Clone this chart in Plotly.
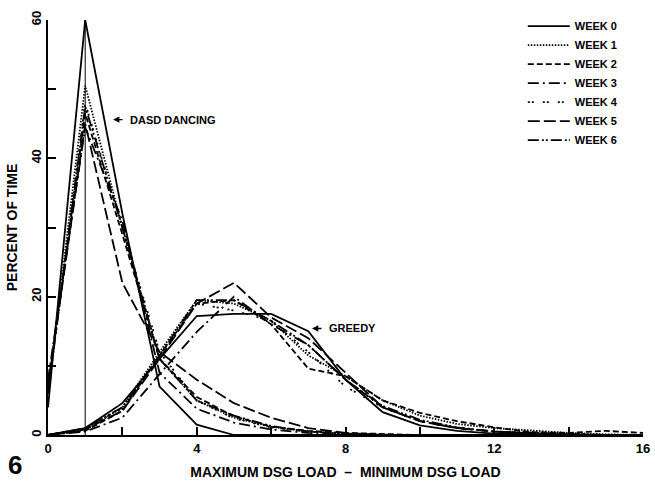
import plotly.graph_objects as go

x_vals = list(range(17))
weeks = ["WEEK 0", "WEEK 1", "WEEK 2", "WEEK 3", "WEEK 4", "WEEK 5", "WEEK 6"]

dasd_w0 = [4, 60, 32, 7, 1.5, 0, 0, 0, 0, 0, 0, 0, 0, 0, 0, 0, 0]
dasd_w1 = [6, 50.5, 30, 11, 5, 2.5, 1.2, 0.5, 0.2, 0, 0, 0, 0, 0, 0, 0, 0]
dasd_w2 = [7, 46.5, 29, 11, 5.5, 2.7, 1.2, 0.6, 0.3, 0.1, 0, 0, 0, 0, 0, 0, 0]
dasd_w3 = [8, 44.5, 31, 9, 3.8, 1.8, 0.8, 0.3, 0.1, 0, 0, 0, 0, 0, 0, 0, 0]
dasd_w4 = [6, 48, 30, 12, 5, 2.4, 1.1, 0.5, 0.2, 0, 0, 0, 0, 0, 0, 0, 0]
dasd_w5 = [7, 45, 22, 12, 8, 4.6, 2.5, 1, 0.3, 0, 0, 0, 0, 0, 0, 0, 0]
dasd_w6 = [6, 47.5, 30, 11, 5, 2.8, 1.3, 0.5, 0.2, 0, 0, 0, 0, 0, 0, 0, 0]

greedy_w0 = [0, 1, 4.6, 11, 17.2, 17.5, 17.5, 15, 8, 3.3, 1.4, 0.6, 0.2, 0.1, 0, 0, 0]
greedy_w1 = [0, 0.8, 4, 12, 19.5, 19, 16.5, 11.5, 8.5, 5, 2.8, 1.6, 1, 0.6, 0.3, 0.1, 0]
greedy_w2 = [0, 0.6, 3.5, 11.5, 19, 19.5, 16, 9.6, 8.5, 5, 3.2, 2, 1.1, 0.4, 0.3, 0.6, 0.3]
greedy_w3 = [0, 0.5, 2.5, 8.8, 14.9, 20, 16, 13, 8, 4, 2, 1, 0.5, 0.2, 0, 0, 0]
greedy_w4 = [0, 0.9, 3.8, 11.5, 19, 18, 16.5, 12, 7, 4, 2, 1, 0.5, 0.3, 0.1, 0, 0]
greedy_w5 = [0, 0.8, 3.5, 11, 19, 22, 17, 14, 9, 4, 2, 1, 0.5, 0.2, 0, 0, 0]
greedy_w6 = [0, 1, 4, 11.5, 19.5, 19.5, 16.5, 13, 8, 4.2, 2.2, 1.1, 0.5, 0.3, 0.1, 0, 0]

dasd = [dasd_w0, dasd_w1, dasd_w2, dasd_w3, dasd_w4, dasd_w5, dasd_w6]
greedy = [greedy_w0, greedy_w1, greedy_w2, greedy_w3, greedy_w4, greedy_w5, greedy_w6]

dashes = [
    "solid",
    "1.5px,1.5px",
    "6px,3px",
    "11px,4px,2px,4px",
    "2px,2px,2px,9px",
    "12px,4px",
    "11px,3px,2px,2px,2px,3px",
]

FONT = "Liberation Sans"
fig = go.Figure()
for i, name in enumerate(weeks):
    fig.add_trace(go.Scatter(
        x=x_vals, y=dasd[i], mode="lines", name=name,
        line=dict(color="black", width=1.8, dash=dashes[i]),
    ))
for i, name in enumerate(weeks):
    fig.add_trace(go.Scatter(
        x=x_vals, y=greedy[i], mode="lines", name=name,
        showlegend=False,
        line=dict(color="black", width=1.8, dash=dashes[i]),
    ))

fig.add_shape(type="line", xref="x", yref="y", x0=1, x1=1, y0=0, y1=60,
              line=dict(color="black", width=1))

# arrows
fig.add_annotation(x=1.75, y=45.6, xref="x", yref="y", text="", showarrow=True,
                   ax=11, ay=0, arrowhead=2, arrowsize=0.9, arrowwidth=1.4,
                   arrowcolor="black", standoff=0, startstandoff=0)
fig.add_annotation(x=7.1, y=15.4, xref="x", yref="y", text="", showarrow=True,
                   ax=11, ay=0, arrowhead=2, arrowsize=0.9, arrowwidth=1.4,
                   arrowcolor="black", standoff=0, startstandoff=0)
fig.add_annotation(x=2.15, y=45.6, xref="x", yref="y", text="DASD DANCING",
                   showarrow=False, xanchor="left", yanchor="middle",
                   font=dict(family=FONT, size=11, color="black", weight="bold"))
fig.add_annotation(x=7.5, y=15.4, xref="x", yref="y", text="GREEDY",
                   showarrow=False, xanchor="left", yanchor="middle",
                   font=dict(family=FONT, size=11, color="black", weight="bold"))
fig.add_annotation(x=-0.055, y=-0.112, xref="paper", yref="paper", text="6",
                   showarrow=False, xanchor="center", yanchor="bottom", borderpad=0,
                   font=dict(family=FONT, size=26, color="black"))

fig.update_layout(
    width=655, height=483,
    margin=dict(l=48, r=12, t=17, b=48),
    paper_bgcolor="white", plot_bgcolor="white",
    font=dict(family=FONT, color="black", weight="bold"),
    showlegend=True,
    legend=dict(x=0.798, y=1.02, xanchor="left", yanchor="top",
                bgcolor="rgba(0,0,0,0)", itemwidth=42, tracegroupgap=0,
                font=dict(family=FONT, size=11, color="black", weight="bold")),
    xaxis=dict(range=[0, 16], tickvals=[0, 4, 8, 12, 16], ticks="inside", ticklen=8,
               tickwidth=1.5, tickcolor="black", automargin=False,
               minor=dict(dtick=2, ticks="inside", ticklen=8, tickwidth=1.5, tickcolor="black"),
               showline=True, linecolor="black", linewidth=2, showgrid=False, zeroline=False,
               tickfont=dict(family=FONT, size=13, color="black", weight="bold"),
               title=dict(text="MAXIMUM DSG LOAD  –  MINIMUM DSG LOAD", standoff=13,
                          font=dict(family=FONT, size=14, color="black", weight="bold"))),
    yaxis=dict(range=[0, 60], tickvals=[0, 20, 40, 60], ticks="inside", ticklen=8,
               tickwidth=1.5, tickcolor="black", tickangle=-90, automargin=False,
               minor=dict(dtick=10, ticks="inside", ticklen=8, tickwidth=1.5, tickcolor="black"),
               showline=True, linecolor="black", linewidth=2, showgrid=False, zeroline=False,
               tickfont=dict(family=FONT, size=13, color="black", weight="bold"),
               title=dict(text="PERCENT OF TIME", standoff=8,
                          font=dict(family=FONT, size=14, color="black", weight="bold"))),
)

fig.write_html("out.html")
